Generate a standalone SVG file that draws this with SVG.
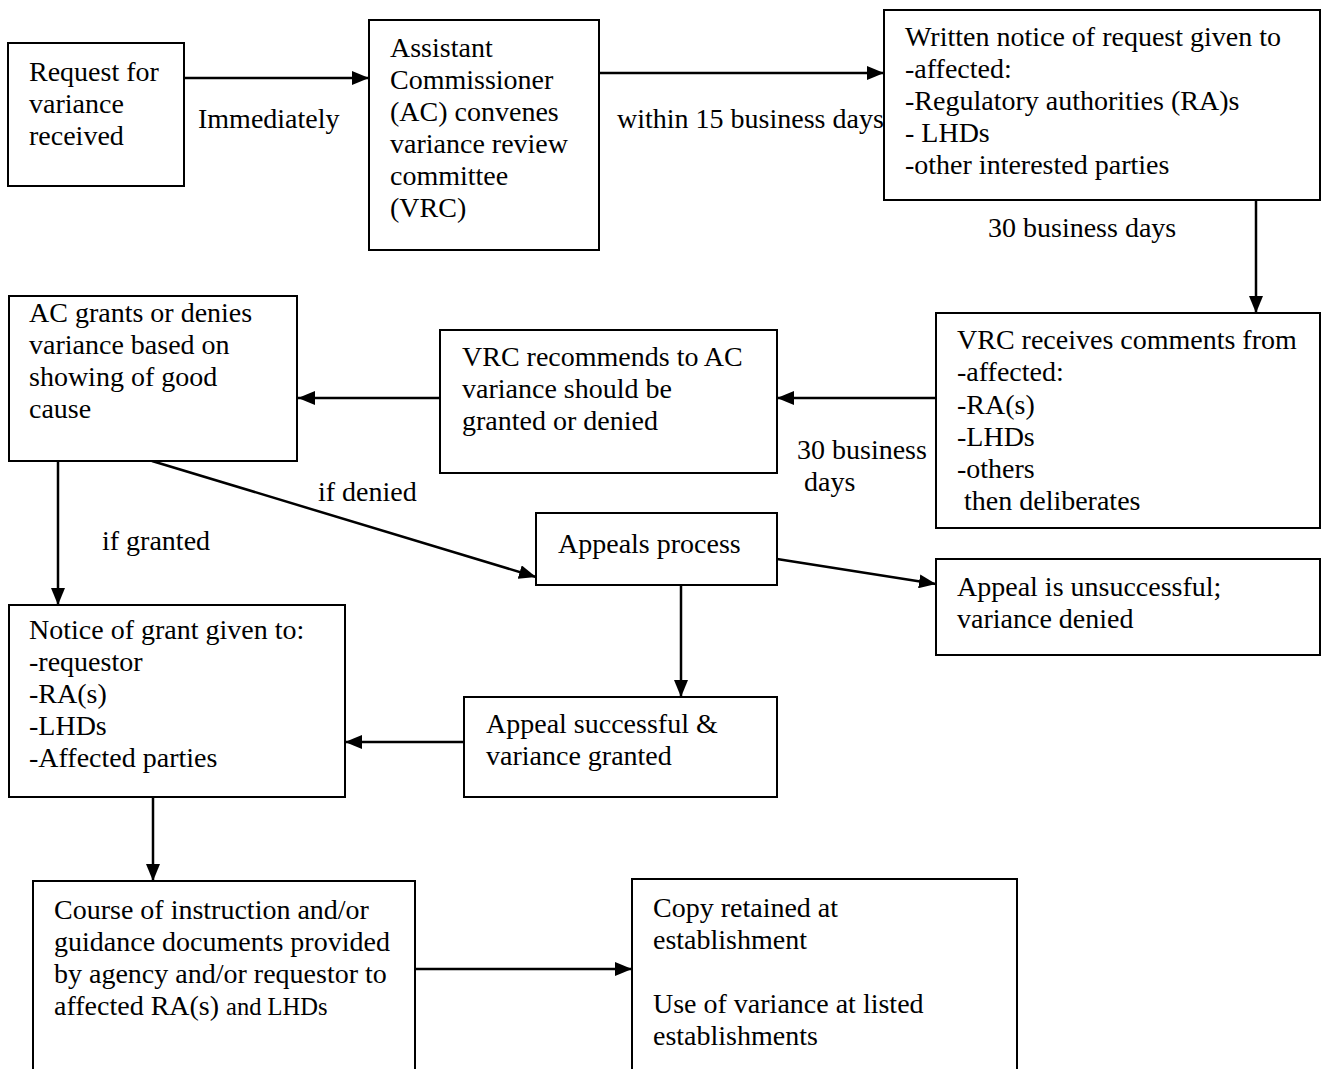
<svg xmlns="http://www.w3.org/2000/svg" width="1321" height="1069" viewBox="0 0 1321 1069">
<style>
  .box { fill: #ffffff; stroke: #000000; stroke-width: 2; }
  .t { font-family: "Liberation Serif", "Times New Roman", serif; font-size: 28px; fill: #000000; }
  .s { font-size: 24.5px; }
  .edge { fill: none; stroke: #000000; stroke-width: 2.5; marker-end: url(#arrow); }
</style>
<defs>
  <marker id="arrow" markerUnits="userSpaceOnUse" markerWidth="18" markerHeight="14" refX="17" refY="7" orient="auto">
    <path d="M0,0 L17,7 L0,14 Z" fill="#000000"/>
  </marker>
</defs>
<rect width="1321" height="1069" fill="#ffffff"/>

<g id="connectors">
  <line class="edge" x1="184" y1="78" x2="369" y2="78"/>
  <line class="edge" x1="599" y1="73" x2="884" y2="73"/>
  <line class="edge" x1="1256" y1="200" x2="1256" y2="313"/>
  <line class="edge" x1="936" y1="398" x2="777" y2="398"/>
  <line class="edge" x1="440" y1="398" x2="298" y2="398"/>
  <line class="edge" x1="58" y1="461" x2="58" y2="605"/>
  <line class="edge" x1="152" y1="461" x2="536" y2="577"/>
  <line class="edge" x1="777" y1="559" x2="936" y2="584"/>
  <line class="edge" x1="681" y1="585" x2="681" y2="697"/>
  <line class="edge" x1="464" y1="742" x2="345" y2="742"/>
  <line class="edge" x1="153" y1="797" x2="153" y2="881"/>
  <line class="edge" x1="415" y1="969" x2="632" y2="969"/>
  <text class="t" x="198" y="128">Immediately</text>
  <text class="t" x="617" y="128">within 15 business days</text>
  <text class="t" x="988" y="237">30 business days</text>
  <text class="t" x="797" y="459">30 business</text>
  <text class="t" x="797" y="491" xml:space="preserve"> days</text>
  <text class="t" x="318" y="501">if denied</text>
  <text class="t" x="102" y="550">if granted</text>
</g>

<g id="request">
  <rect class="box" x="8" y="43" width="176" height="143"/>
  <text class="t" x="29" y="81">Request for</text>
  <text class="t" x="29" y="113">variance</text>
  <text class="t" x="29" y="145">received</text>
</g>

<g id="convene">
  <rect class="box" x="369" y="20" width="230" height="230"/>
  <text class="t" x="390" y="57">Assistant</text>
  <text class="t" x="390" y="89">Commissioner</text>
  <text class="t" x="390" y="121">(AC) convenes</text>
  <text class="t" x="390" y="153">variance review</text>
  <text class="t" x="390" y="185">committee</text>
  <text class="t" x="390" y="217">(VRC)</text>
</g>

<g id="notice">
  <rect class="box" x="884" y="10" width="436" height="190"/>
  <text class="t" x="905" y="46">Written notice of request given to</text>
  <text class="t" x="905" y="78">-affected:</text>
  <text class="t" x="905" y="110">-Regulatory authorities (RA)s</text>
  <text class="t" x="905" y="142">- LHDs</text>
  <text class="t" x="905" y="174">-other interested parties</text>
</g>

<g id="comments">
  <rect class="box" x="936" y="313" width="384" height="215"/>
  <text class="t" x="957" y="349">VRC receives comments from</text>
  <text class="t" x="957" y="381">-affected:</text>
  <text class="t" x="957" y="414">-RA(s)</text>
  <text class="t" x="957" y="446">-LHDs</text>
  <text class="t" x="957" y="478">-others</text>
  <text class="t" x="957" y="510" xml:space="preserve"> then deliberates</text>
</g>

<g id="recommend">
  <rect class="box" x="440" y="330" width="337" height="143"/>
  <text class="t" x="462" y="366">VRC recommends to AC</text>
  <text class="t" x="462" y="398">variance should be</text>
  <text class="t" x="462" y="430">granted or denied</text>
</g>

<g id="decide">
  <rect class="box" x="9" y="296" width="288" height="165"/>
  <text class="t" x="29" y="322">AC grants or denies</text>
  <text class="t" x="29" y="354">variance based on</text>
  <text class="t" x="29" y="386">showing of good</text>
  <text class="t" x="29" y="418">cause</text>
</g>

<g id="appeals">
  <rect class="box" x="536" y="513" width="241" height="72"/>
  <text class="t" x="558" y="553">Appeals process</text>
</g>

<g id="unsuccessful">
  <rect class="box" x="936" y="559" width="384" height="96"/>
  <text class="t" x="957" y="596">Appeal is unsuccessful;</text>
  <text class="t" x="957" y="628">variance denied</text>
</g>

<g id="grant-notice">
  <rect class="box" x="9" y="605" width="336" height="192"/>
  <text class="t" x="29" y="639">Notice of grant given to:</text>
  <text class="t" x="29" y="671">-requestor</text>
  <text class="t" x="29" y="703">-RA(s)</text>
  <text class="t" x="29" y="735">-LHDs</text>
  <text class="t" x="29" y="767">-Affected parties</text>
</g>

<g id="successful">
  <rect class="box" x="464" y="697" width="313" height="100"/>
  <text class="t" x="486" y="733">Appeal successful &amp;</text>
  <text class="t" x="486" y="765">variance granted</text>
</g>

<g id="course">
  <rect class="box" x="33" y="881" width="382" height="200"/>
  <text class="t" x="54" y="919">Course of instruction and/or</text>
  <text class="t" x="54" y="951">guidance documents provided</text>
  <text class="t" x="54" y="983">by agency and/or requestor to</text>
  <text class="t" x="54" y="1015">affected RA(s) <tspan class="s">and LHDs</tspan></text>
</g>

<g id="copy">
  <rect class="box" x="632" y="879" width="385" height="202"/>
  <text class="t" x="653" y="917">Copy retained at</text>
  <text class="t" x="653" y="949">establishment</text>
  <text class="t" x="653" y="1013">Use of variance at listed</text>
  <text class="t" x="653" y="1045">establishments</text>
</g>
</svg>
